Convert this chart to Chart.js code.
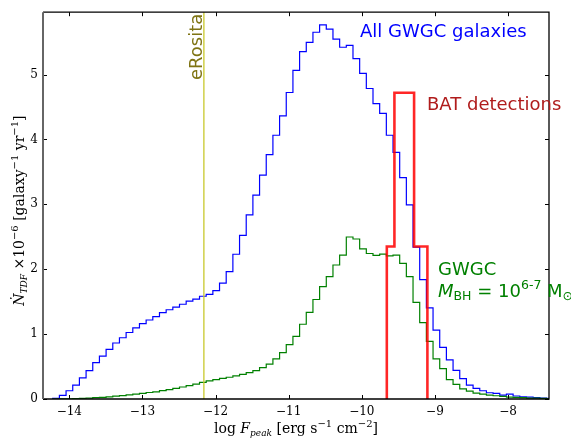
<!DOCTYPE html>
<html>
<head>
<meta charset="utf-8">
<script src="https://cdn.jsdelivr.net/npm/chart.js@4"></script>
<style>
  html, body { margin: 0; padding: 0; background: #fff; }
  #wrap { width: 571px; height: 439px; }
</style>
</head>
<body>
<div id="wrap"><canvas id="tdfChart" width="571" height="439"></canvas></div>
<script>
// Histogram bins (log F_peak)
const binStart = -14.227;
const binWidth = 0.09125;

// All GWGC galaxies
const allGwgc = [
    0.01, 0.056, 0.127, 0.213, 0.325, 0.437, 0.559, 0.66, 0.766, 0.863,
    0.944, 1.025, 1.096, 1.16, 1.217, 1.27, 1.33, 1.375, 1.415, 1.46,
    1.507, 1.54, 1.583, 1.613, 1.67, 1.785, 1.963, 2.23, 2.52, 2.836,
    3.14, 3.45, 3.764, 4.064, 4.364, 4.723, 5.064, 5.353, 5.495, 5.651,
    5.765, 5.70, 5.545, 5.42, 5.45, 5.246, 5.018, 4.784, 4.55, 4.40,
    4.064, 3.80, 3.41, 2.99, 2.34, 1.84, 1.405, 1.06, 0.796, 0.604,
    0.441, 0.315, 0.213, 0.163, 0.127, 0.096, 0.087, 0.061, 0.075, 0.046,
    0.035, 0.03, 0.02, 0.015, 0.01
];

// GWGC, M_BH = 10^6-7 Msun
const gwgcMbh = [
    0, 0.002, 0.004, 0.007, 0.01, 0.015, 0.02, 0.026, 0.034, 0.043,
    0.053, 0.064, 0.075, 0.087, 0.1, 0.111, 0.128, 0.145, 0.165, 0.185,
    0.205, 0.228, 0.255, 0.278, 0.30, 0.318, 0.335, 0.355, 0.38, 0.406,
    0.437, 0.482, 0.537, 0.619, 0.715, 0.837, 0.964, 1.152, 1.335, 1.533,
    1.73, 1.887, 2.065, 2.217, 2.496, 2.465, 2.314, 2.242, 2.214, 2.233,
    2.205, 2.217, 2.09, 1.887, 1.49, 1.177, 0.887, 0.619, 0.467, 0.30,
    0.225, 0.155, 0.12, 0.092, 0.075, 0.06, 0.05, 0.04, 0.03, 0.025,
    0.02, 0.015, 0.012, 0.01, 0.008
];

// BAT detections
const batEdges = [-9.658, -9.554, -9.285, -9.103];
const batValues = [2.35, 4.72, 2.35];

// eRosita limit
const eRositaX = -12.16;

const xTicks = [-14, -13, -12, -11, -10, -9, -8];
const yTicks = [0, 1, 2, 3, 4, 5];

// turn bin values into step points (closed down to zero at both ends)
function stepPoints(edges, values) {
    const pts = [{ x: edges[0], y: 0 }];
    values.forEach((v, i) => pts.push({ x: edges[i], y: v }));
    pts.push({ x: edges[values.length], y: values[values.length - 1] });
    pts.push({ x: edges[values.length], y: 0 });
    return pts;
}
const binEdges = [];
for (let i = 0; i <= allGwgc.length; i++) binEdges.push(binStart + i * binWidth);

// draw a row of text pieces [text, font, dy]
function drawRuns(ctx, runs, x, y, align) {
    let total = 0;
    runs.forEach(r => { ctx.font = r[1]; total += ctx.measureText(r[0]).width; });
    let cx = align === 'center' ? x - total / 2 : x;
    ctx.textAlign = 'left';
    ctx.textBaseline = 'alphabetic';
    runs.forEach(r => {
        ctx.font = r[1];
        ctx.fillText(r[0], cx, y + (r[2] || 0));
        cx += ctx.measureText(r[0]).width;
    });
}

const SANS = '"DejaVu Sans", sans-serif';
const SERIF = '"DejaVu Serif", serif';

const framePlugin = {
    id: 'frame',
    afterDraw(chart) {
        const { ctx, chartArea: a, scales: { x, y } } = chart;
        ctx.save();

        // inward ticks
        ctx.strokeStyle = '#000';
        ctx.lineWidth = 1;
        xTicks.forEach(t => {
            const px = Math.round(x.getPixelForValue(t)) + 0.5;
            ctx.beginPath();
            ctx.moveTo(px, a.bottom); ctx.lineTo(px, a.bottom - 4);
            ctx.moveTo(px, a.top); ctx.lineTo(px, a.top + 4);
            ctx.stroke();
        });
        yTicks.forEach(t => {
            const py = Math.round(y.getPixelForValue(t)) + 0.5;
            ctx.beginPath();
            ctx.moveTo(a.left, py); ctx.lineTo(a.left + 4, py);
            ctx.moveTo(a.right, py); ctx.lineTo(a.right - 4, py);
            ctx.stroke();
        });

        // spines
        ctx.lineWidth = 1.3;
        ctx.beginPath();
        ctx.moveTo(a.left, a.top); ctx.lineTo(a.right, a.top);
        ctx.lineTo(a.right, a.bottom); ctx.lineTo(a.left, a.bottom);
        ctx.stroke();
        ctx.strokeStyle = '#666';
        ctx.lineWidth = 2;
        ctx.beginPath();
        ctx.moveTo(a.left, a.top); ctx.lineTo(a.left, a.bottom);
        ctx.stroke();

        // axis titles
        ctx.fillStyle = '#000';
        drawRuns(ctx, [
            ['log ', '14px ' + SERIF],
            ['F', 'italic 14px ' + SERIF],
            ['peak', 'italic 9px ' + SERIF, 3],
            [' [erg s', '14px ' + SERIF],
            ['\u22121', '10px ' + SERIF, -6],
            [' cm', '14px ' + SERIF],
            ['\u22122', '10px ' + SERIF, -6],
            [']', '14px ' + SERIF]
        ], (a.left + a.right) / 2, 433, 'center');

        ctx.save();
        ctx.translate(24, (a.top + a.bottom) / 2 + 5);
        ctx.rotate(-Math.PI / 2);
        drawRuns(ctx, [
            ['\u1E44', 'italic 14px ' + SERIF],
            ['TDF', 'italic 9px ' + SERIF, 3],
            [' \u00D710', '14px ' + SERIF],
            ['\u22126', '10px ' + SERIF, -6],
            [' [galaxy', '14px ' + SERIF],
            ['\u22121', '10px ' + SERIF, -6],
            [' yr', '14px ' + SERIF],
            ['\u22121', '10px ' + SERIF, -6],
            [']', '14px ' + SERIF]
        ], 0, 0, 'center');
        ctx.restore();

        // labels in the plot
        ctx.fillStyle = '#0000ff';
        drawRuns(ctx, [['All GWGC galaxies', '18px ' + SANS]], 360, 37);
        ctx.fillStyle = '#b01c1c';
        drawRuns(ctx, [['BAT detections', '18px ' + SANS]], 427, 110);
        ctx.fillStyle = '#008000';
        drawRuns(ctx, [['GWGC', '18px ' + SANS]], 438, 275);
        drawRuns(ctx, [
            ['M', 'italic 18px ' + SANS],
            ['BH', '12.5px ' + SANS, 3],
            [' = 10', '18px ' + SANS],
            ['6-7', '12.5px ' + SANS, -8],
            [' M', '18px ' + SANS],
            ['\u2299', '12.5px ' + SANS, 3]
        ], 438, 297);

        ctx.save();
        ctx.fillStyle = '#7f7414';
        ctx.font = '18px ' + SANS;
        ctx.translate(x.getPixelForValue(eRositaX) - 2.2, 80);
        ctx.rotate(-Math.PI / 2);
        ctx.textAlign = 'left';
        ctx.textBaseline = 'alphabetic';
        ctx.fillText('eRosita', 0, 0);
        ctx.restore();

        ctx.restore();
    }
};

const ctx = document.getElementById('tdfChart').getContext('2d');
new Chart(ctx, {
    type: 'line',
    data: {
        datasets: [
            {
                label: 'eRosita',
                data: [{ x: eRositaX, y: 0 }, { x: eRositaX, y: 10 }],
                borderColor: 'rgba(200, 200, 40, 0.85)',
                borderWidth: 1.5,
                order: 0
            },
            {
                label: 'BAT detections',
                data: stepPoints(batEdges, batValues),
                borderColor: 'rgba(255, 0, 0, 0.85)',
                borderWidth: 2.6,
                stepped: true,
                order: 1
            },
            {
                label: 'GWGC M_BH 10^6-7',
                data: stepPoints(binEdges, gwgcMbh),
                borderColor: '#008000',
                borderWidth: 1.2,
                stepped: true,
                order: 2
            },
            {
                label: 'All GWGC galaxies',
                data: stepPoints(binEdges, allGwgc),
                borderColor: '#0000ff',
                borderWidth: 1.2,
                stepped: true,
                order: 3
            }
        ]
    },
    options: {
        responsive: false,
        animation: false,
        clip: true,
        layout: { padding: { top: 7, right: 22, left: 0, bottom: 0 } },
        elements: { point: { radius: 0 }, line: { fill: false, tension: 0 } },
        scales: {
            x: {
                type: 'linear',
                min: -14.36,
                max: -7.44,
                afterFit: s => { s.height = 40; },
                grid: { display: false, drawTicks: false },
                border: { display: false },
                ticks: {
                    stepSize: 1,
                    includeBounds: false,
                    autoSkip: false,
                    maxRotation: 0,
                    padding: 6,
                    color: '#000',
                    font: { family: 'DejaVu Serif', size: 12 },
                    callback: v => (v < 0 ? '\u2212' : '') + Math.abs(v)
                }
            },
            y: {
                min: 0,
                max: 5.96,
                afterFit: s => { s.width = 43; },
                grid: { display: false, drawTicks: false },
                border: { display: false },
                ticks: {
                    stepSize: 1,
                    includeBounds: false,
                    padding: 5,
                    color: '#000',
                    font: { family: 'DejaVu Serif', size: 12 }
                }
            }
        },
        plugins: {
            legend: { display: false },
            tooltip: { enabled: false }
        }
    },
    plugins: [framePlugin]
});
</script>
</body>
</html>
